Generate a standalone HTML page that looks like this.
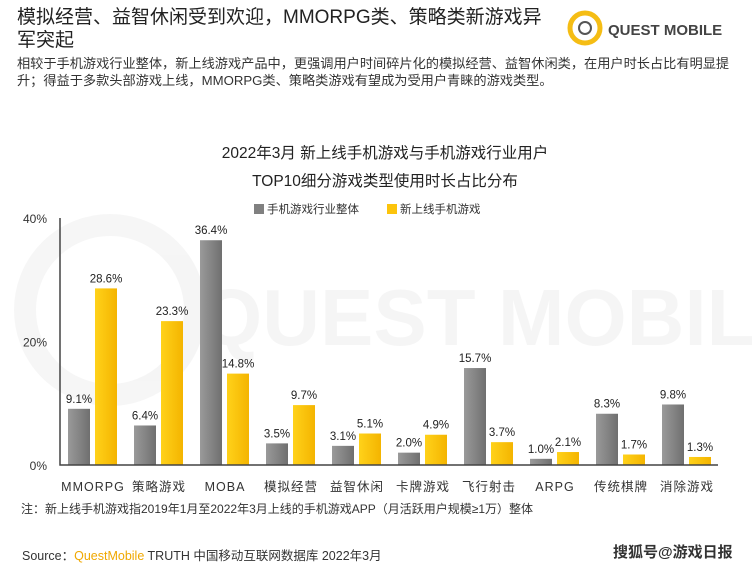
<!DOCTYPE html>
<html><head><meta charset="utf-8"><style>
body{margin:0;width:752px;height:567px;background:#fff;overflow:hidden;font-family:"Liberation Sans","Noto Sans CJK SC",sans-serif;position:relative}
.abs{position:absolute;white-space:nowrap}
</style></head><body>
<div class="abs" style="left:17px;top:6px;font-size:19px;line-height:23px;color:#222">模拟经营、益智休闲受到欢迎，MMORPG类、策略类新游戏异<br>军突起</div>
<svg class="abs" style="left:565px;top:8px" width="160" height="40"><circle cx="20" cy="20" r="15" fill="none" stroke="#f5bd14" stroke-width="5"/><circle cx="20" cy="20" r="6" fill="none" stroke="#555" stroke-width="2"/><text x="43" y="27" font-size="15" font-weight="bold" fill="#444" font-family="Liberation Sans">QUEST MOBILE</text></svg>
<div class="abs" style="left:17px;top:55px;font-size:13.2px;line-height:17px;color:#333">相较于手机游戏行业整体，新上线游戏产品中，更强调用户时间碎片化的模拟经营、益智休闲类，在用户时长占比有明显提<br>升；得益于多款头部游戏上线，MMORPG类、策略类游戏有望成为受用户青睐的游戏类型。</div>
<svg id="chart" class="abs" style="left:0;top:0" width="752" height="567">
<defs>
<linearGradient id="g" x1="0" x2="1"><stop offset="0" stop-color="#9a9a9a"/><stop offset="1" stop-color="#6f6f6f"/></linearGradient>
<linearGradient id="y" x1="0" x2="1"><stop offset="0" stop-color="#ffd21a"/><stop offset="1" stop-color="#f4b400"/></linearGradient>
</defs>
<g opacity="0.035"><circle cx="110" cy="310" r="85" fill="none" stroke="#000" stroke-width="22"/><text x="200" y="345" font-size="80" font-family="Liberation Sans" font-weight="bold" fill="#000">QUEST MOBILE</text></g>
<text x="385" y="158" text-anchor="middle" font-size="15.5" fill="#222">2022年3月 新上线手机游戏与手机游戏行业用户</text>
<text x="385" y="186" text-anchor="middle" font-size="15.5" fill="#222">TOP10细分游戏类型使用时长占比分布</text>
<g><rect x="254" y="204" width="10" height="10" fill="#808080"/><text x="267" y="213" font-size="11.5" fill="#333">手机游戏行业整体</text><rect x="387" y="204" width="10" height="10" fill="#fcc40c"/><text x="400" y="213" font-size="11.5" fill="#333">新上线手机游戏</text></g>
<g id="plot"></g>
</svg>
<div class="abs" style="left:21px;top:500px;font-size:12px;color:#333">注：新上线手机游戏指2019年1月至2022年3月上线的手机游戏APP（月活跃用户规模≥1万）整体</div>
<div class="abs" style="left:22px;top:545px;font-size:12.5px;color:#333">Source：<span style="color:#f0a800">QuestMobile</span> TRUTH 中国移动互联网数据库 2022年3月</div>
<div class="abs" style="left:613px;top:541px;font-size:15px;font-weight:bold;color:#333">搜狐号@游戏日报</div>
<script>
const categories=["MMORPG","策略游戏","MOBA","模拟经营","益智休闲","卡牌游戏","飞行射击","ARPG","传统棋牌","消除游戏"];
const industry=[9.1,6.4,36.4,3.5,3.1,2.0,15.7,1.0,8.3,9.8];
const newGames=[28.6,23.3,14.8,9.7,5.1,4.9,3.7,2.1,1.7,1.3];
const yTicks=[0,20,40];
const NS="http://www.w3.org/2000/svg";
const plot=document.getElementById('plot');
const y0=465,yTop=218,vMax=40,x0=62,step=66;
const ys=v=>y0-(v/vMax)*(y0-yTop);
const xs=i=>x0+i*step;
function mk(tag,at,txt){const e=document.createElementNS(NS,tag);for(const k in at)e.setAttribute(k,at[k]);if(txt!=null)e.textContent=txt;plot.appendChild(e);return e;}
yTicks.forEach(t=>{const e=mk('text',{x:47,y:ys(t)+5,'text-anchor':'end','font-size':12,fill:'#333'},t+'%');

});
categories.forEach((c,i)=>{
const g=mk('rect',{x:xs(i)+6,y:ys(industry[i]),width:22,height:y0-ys(industry[i]),fill:'url(#g)'});


const b=mk('rect',{x:xs(i)+33,y:ys(newGames[i]),width:22,height:y0-ys(newGames[i]),fill:'url(#y)'});


const l1=mk('text',{x:xs(i)+17,y:ys(industry[i])-6,'text-anchor':'middle','font-size':11.5,fill:'#222'},industry[i].toFixed(1)+'%');


const l2=mk('text',{x:xs(i)+44,y:ys(newGames[i])-6,'text-anchor':'middle','font-size':11.5,fill:'#222'},newGames[i].toFixed(1)+'%');


const cl=mk('text',{x:xs(i)+31,y:491,'text-anchor':'middle','font-size':12.5,fill:'#333','letter-spacing':'1'},c);


});
const ax=mk('path',{d:`M60 ${yTop} V${y0} H718`,stroke:'#444','stroke-width':1.5,fill:'none'});


</script>
</body></html>
